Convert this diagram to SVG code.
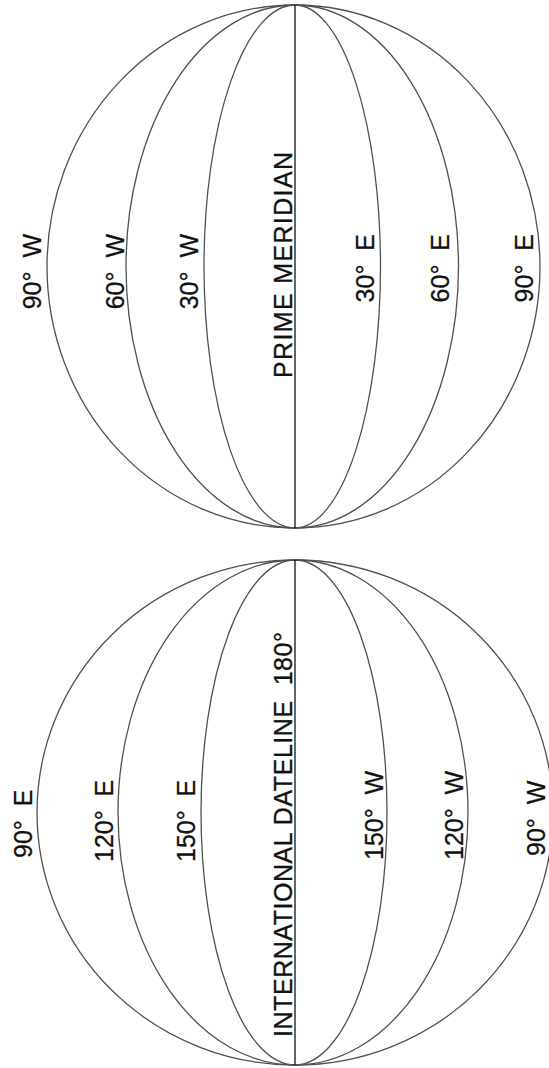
<svg xmlns="http://www.w3.org/2000/svg" width="549" height="1068" viewBox="0 0 549 1068">
<style>
.m{fill:none;stroke:#505050;stroke-width:1.3}
.c{fill:none;stroke:#111;stroke-width:1.3}
text{font-family:"Liberation Sans",Arial,sans-serif;font-size:25px;fill:#111;stroke:#111;stroke-width:0.3;white-space:pre}
.t{text-anchor:end}
.b{text-anchor:start}
</style>
<rect width="549" height="1068" fill="#fff"/>
<g id="globe-top">
<path class="m" d="M295,5 A248,261.5 0 0,0 295,528"/>
<path class="m" d="M295,5 A169,261.5 0 0,0 295,528"/>
<path class="m" d="M295,5 A91,261.5 0 0,0 295,528"/>
<path class="m" d="M295,5 A85.5,261.5 0 0,1 295,528"/>
<path class="m" d="M295,5 A163.5,261.5 0 0,1 295,528"/>
<path class="m" d="M295,5 A245,261.5 0 0,1 295,528"/>
<line class="c" x1="295" y1="5" x2="295" y2="528"/>
<text class="t" transform="translate(41,234) rotate(-90)">90°  W</text>
<text class="t" transform="translate(124,234) rotate(-90)">60°  W</text>
<text class="t" transform="translate(198,234) rotate(-90)">30°  W</text>
<text class="b" transform="translate(292,378) rotate(-90)" textLength="226" lengthAdjust="spacing">PRIME MERIDIAN</text>
<text class="t" transform="translate(374,234) rotate(-90)">30°  E</text>
<text class="t" transform="translate(449,234) rotate(-90)">60°  E</text>
<text class="t" transform="translate(533,234) rotate(-90)">90°  E</text>
</g>
<g id="globe-bottom">
<path class="m" d="M295,560 A258,252.5 0 0,0 295,1065"/>
<path class="m" d="M295,560 A177,252.5 0 0,0 295,1065"/>
<path class="m" d="M295,560 A94,252.5 0 0,0 295,1065"/>
<path class="m" d="M295,560 A92,252.5 0 0,1 295,1065"/>
<path class="m" d="M295,560 A173,252.5 0 0,1 295,1065"/>
<path class="m" d="M295,560 A258,252.5 0 0,1 295,1065"/>
<line class="c" x1="295" y1="560" x2="295" y2="1065"/>
<text class="b" transform="translate(32,858) rotate(-90)">90°  E</text>
<text class="b" transform="translate(113,862) rotate(-90)">120°  E</text>
<text class="b" transform="translate(195,862) rotate(-90)">150°  E</text>
<text class="b" transform="translate(292,1037) rotate(-90)" textLength="405" lengthAdjust="spacing">INTERNATIONAL DATELINE  180°</text>
<text class="b" transform="translate(383,860) rotate(-90)">150°  W</text>
<text class="b" transform="translate(463,860) rotate(-90)">120°  W</text>
<text class="b" transform="translate(545,856) rotate(-90)">90°  W</text>
</g>
</svg>
